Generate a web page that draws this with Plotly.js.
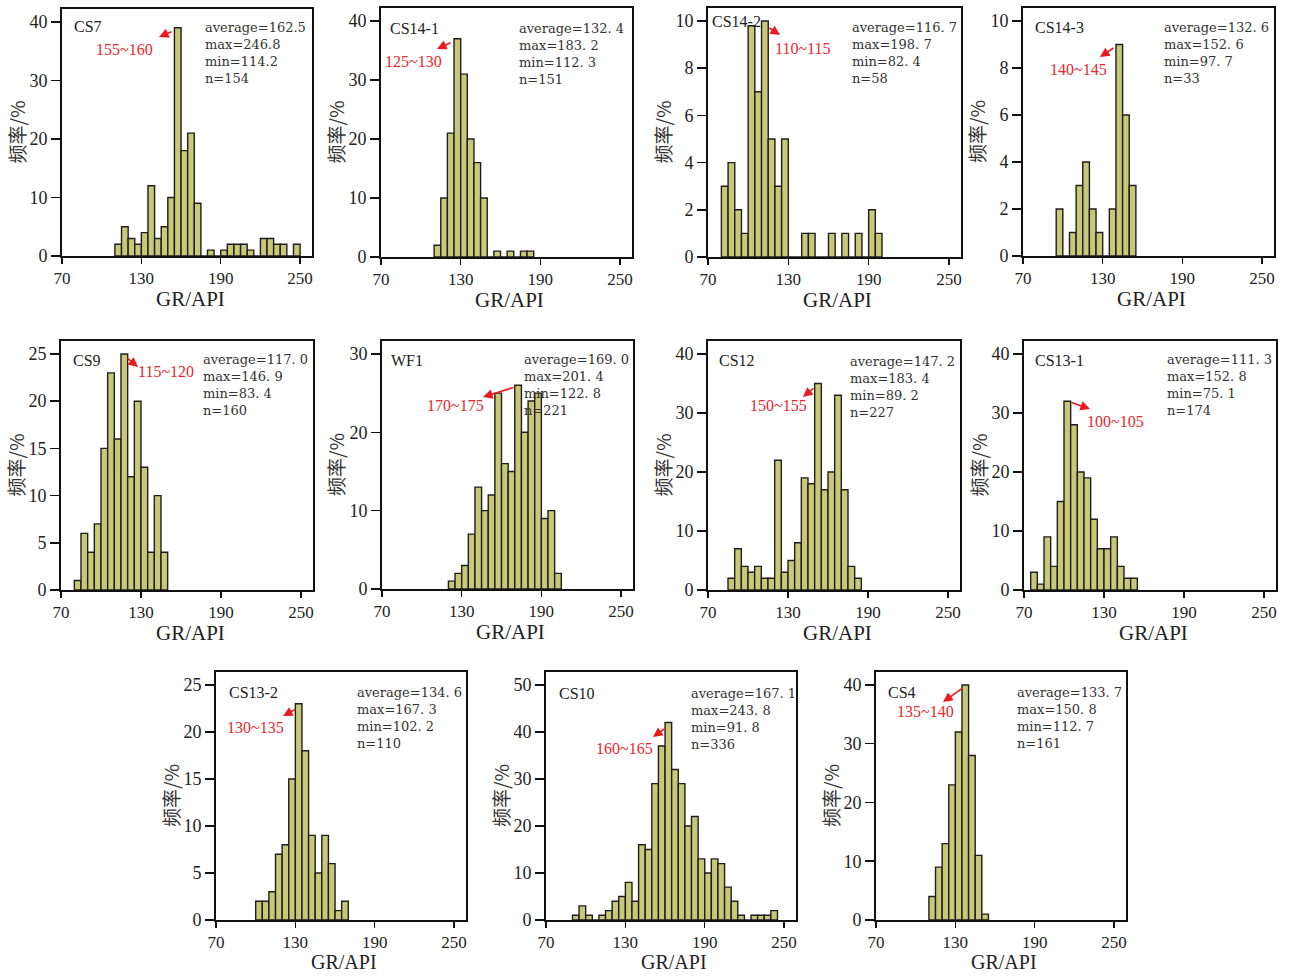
<!DOCTYPE html>
<html>
<head>
<meta charset="utf-8">
<script src="https://cdn.plot.ly/plotly-3.0.1.min.js"></script>
<style>html,body{margin:0;padding:0;background:#fff;}#chart{width:1293px;height:976px;}</style>
</head>
<body>
<div id="chart"></div>
<script>
// ---------------- DATA ----------------
const wells = ['CS7','CS14-1','CS14-2','CS14-3','CS9','WF1','CS12','CS13-1','CS13-2','CS10','CS4'];
// lower edge of the first 5-API bin of each histogram
const binStarts = [110,110,80,95,80,120,85,75,100,90,110];
const countsCS7   = [2,5,3,2,4,12,3,5,10,39,18,21,9,0,1,0,1,2,2,2,1,0,3,3,2,2,0,2];
const countsCS141 = [2,10,21,37,31,20,16,10,0,1,0,1,0,1,1];
const countsCS142 = [3,4,2,1,9.8,7,10,5,3,5,0,0,1,1,0,0,1,0,1,0,1,0,2,1];
const countsCS143 = [2,0,1,3,4,2,1,0,2,9,6,3];
const countsCS9   = [1,6,4,7,15,23,16,25,12,20,13,4,10,4];
const countsWF1   = [1,2,3,7,13,10,12,25,16,15,26,20,24,25,9,10,2];
const countsCS12  = [2,7,4,3,4,2,2,22,3,5,8,19,18,35,17,20,33,17,4,2];
const countsCS131 = [3,1,9,4,15,32,28,20,19,12,7,7,9,4,2,2];
const countsCS132 = [2,2,3,7,8,15,23,18,9,5,9,6,1,2];
const countsCS10  = [1,3,1,0,1,2,4,5,8,4,16,15,29,37,42,32,29,20,22,13,10,13,12,7,4,1,0,1,1,1,2];
const countsCS4   = [4,9,13,23,32,40,28,11,1];
const allCounts = [countsCS7,countsCS141,countsCS142,countsCS143,countsCS9,countsWF1,countsCS12,countsCS131,countsCS132,countsCS10,countsCS4];

const averages = [162.5,132.4,116.7,132.6,117.0,169.0,147.2,111.3,134.6,167.1,133.7];
const maxima   = [246.8,183.2,198.7,152.6,146.9,201.4,183.4,152.8,167.3,243.8,150.8];
const minima   = [114.2,112.3,82.4,97.7,83.4,122.8,89.2,75.1,102.2,91.8,112.7];
const sampleN  = [154,151,58,33,160,221,227,174,110,336,161];
const modeBinStart = [155,125,110,140,115,170,150,100,130,160,135];
const yTickMax = [40,40,10,10,25,30,40,40,25,50,40];
const yDtick   = [10,10,2,2,5,10,10,10,5,10,10];
const xTickVals = [70,130,190,250];
const xTitle = 'GR/API';
const yTitle = '频率/%';

// ---------------- LAYOUT CONFIG (pixels) ----------------
const W = 1293, H = 976;
const frames = [[62,9,312,256],[381,8,632,257],[708,8,961,257],[1023,8,1274,256],
                [61,341,313,590],[382,341,633,589],[708,341,960,590],[1024,341,1276,590],
                [216,672,466,920],[546,672,796,920],[876,672,1126,920]];
const labelPos = [[9.7,17.7],[6.7,20.3],[2,13.7],[10.3,19.3],[10,19],[7.3,19],[8.7,20],[8.7,19],[10.7,20],[10.7,21],[10,20]];
const statsPos = [[141,18.3],[136,20.3],[142,19.3],[139,19.3],[140,19],[140,19],[140,20],[141,19],[139,20],[143,21],[139,20]];
const redPos = [[62,40],[32,53],[94,40],[55,61],[105,31],[73,64],[70,65],[91,80],[39,55],[78,76],[49,39]];
const arrowPos = [[111,22,97,28],[71,34,56,41],[60,19,72,27],[92,39,77,49],[65,16,77,26],[133,46,101,56],[107,46,95,56],[46,61,66,68],[80,37,67,44],[121,55,107,65],[88,15,67,30]];

const serif = 'Liberation Serif, Times New Roman, serif';
const barFill = '#c8c978';
const px = v => v / W, py = v => 1 - v / H;
const fmt = (v, i) => i === 0 ? v.toFixed(1) : v.toFixed(1).replace('.', '. ');

const traces = [];
const layout = {
  width: W, height: H,
  margin: {l:0, r:0, t:0, b:0},
  paper_bgcolor: '#ffffff', plot_bgcolor: '#ffffff',
  showlegend: false,
  annotations: []
};

wells.forEach((name, i) => {
  const k = i + 1;
  const xa = 'x' + (k === 1 ? '' : k), ya = 'y' + (k === 1 ? '' : k);
  const counts = allCounts[i];
  const xs = counts.map((_, j) => binStarts[i] + 5 * j + 2.5);
  traces.push({
    type: 'bar', x: xs, y: counts, width: 5,
    xaxis: xa, yaxis: ya,
    marker: {color: barFill, line: {color: '#1e1e1e', width: 1.4}},
    hoverinfo: 'skip'
  });
  const [l, t, r, b] = frames[i];
  const axKey = 'xaxis' + (k === 1 ? '' : k), ayKey = 'yaxis' + (k === 1 ? '' : k);
  layout[axKey] = {
    domain: [px(l), px(r)], anchor: ya, range: [70, 259],
    tickvals: xTickVals, ticks: 'outside', ticklen: 6, tickwidth: 1.5, tickcolor: '#111',
    showline: true, mirror: true, linecolor: '#111', linewidth: 1.8,
    showgrid: false, zeroline: false, fixedrange: true,
    tickfont: {family: serif, size: 17, color: '#222'}
  };
  layout[ayKey] = {
    domain: [py(b), py(t)], anchor: xa, range: [0, yTickMax[i] * 1.055],
    tick0: 0, dtick: yDtick[i], ticks: 'outside', ticklen: 9, tickwidth: 1.5, tickcolor: '#111',
    showline: true, mirror: true, linecolor: '#111', linewidth: 1.8,
    showgrid: false, zeroline: false, fixedrange: true,
    tickfont: {family: serif, size: 18, color: '#222'}
  };
  const A = layout.annotations;
  // well name
  A.push({xref:'paper', yref:'paper', x: px(l + labelPos[i][0]), y: py(t + labelPos[i][1]),
    xanchor:'left', yanchor:'middle', showarrow:false, text: name,
    font:{family: serif, size: 16, color:'#222'}});
  // statistics
  A.push({xref:'paper', yref:'paper', x: px(l + statsPos[i][0]), y: py(t + statsPos[i][1] - 9.5),
    xanchor:'left', yanchor:'top', align:'left', showarrow:false,
    text: 'average=' + fmt(averages[i], i) + '<br>max=' + fmt(maxima[i], i) + '<br>min=' + fmt(minima[i], i) + '<br>n=' + sampleN[i],
    font:{family:'DejaVu Serif, serif', size: 13, color:'#333'}});
  // modal bin label
  A.push({xref:'paper', yref:'paper', x: px(l + redPos[i][0]), y: py(t + redPos[i][1]),
    xanchor:'center', yanchor:'middle', showarrow:false,
    text: modeBinStart[i] + '~' + (modeBinStart[i] + 5),
    font:{family: serif, size: 16, color:'#e8282f'}});
  // arrow
  const [tx, ty, hx, hy] = arrowPos[i];
  A.push({xref:'paper', yref:'paper', x: px(l + hx), y: py(t + hy), ax: tx - hx, ay: ty - hy,
    text:'', showarrow:true, arrowhead:2, arrowsize:1.2, arrowwidth:1.6, arrowcolor:'#e8191f', standoff:0, startstandoff:0});
  // axis titles
  const lastRow = b > 800;
  A.push({xref:'paper', yref:'paper', x: px((l + r) / 2 + 3), y: lastRow ? py(H - 1) : py(b + 43),
    xanchor:'center', yanchor: lastRow ? 'bottom' : 'middle', showarrow:false, text: xTitle,
    font:{family: serif, size: lastRow ? 20 : 21, color:'#222'}});
  A.push({xref:'paper', yref:'paper', x: px(l - 46), y: py((t + b) / 2),
    xanchor:'center', yanchor:'middle', showarrow:false, text: yTitle, textangle: -90,
    font:{family:'Noto Sans CJK SC, sans-serif', size: 19, color:'#333'}});
});

Plotly.newPlot('chart', traces, layout, {displayModeBar:false, staticPlot:true});
</script>
</body>
</html>
